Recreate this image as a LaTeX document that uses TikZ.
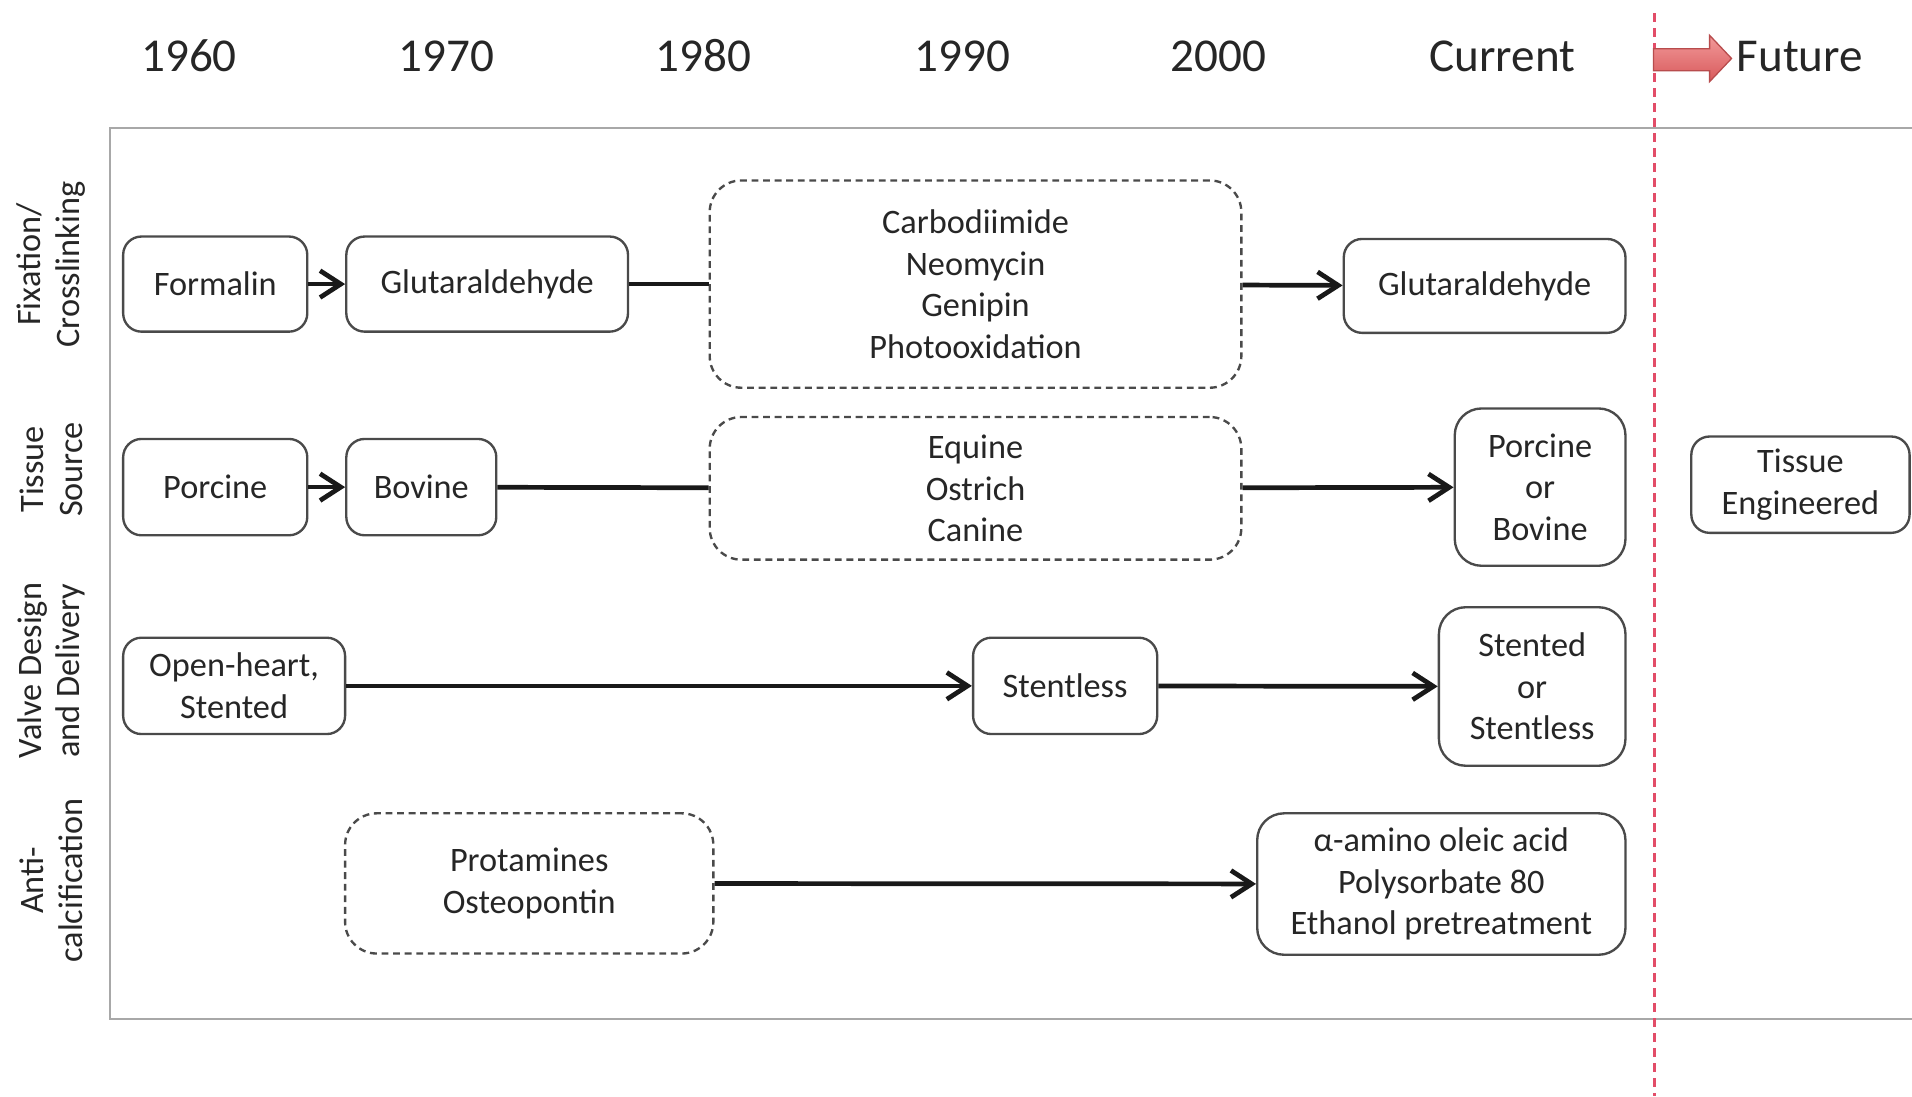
\documentclass[tikz,border=0pt]{standalone}
\usepackage{fontspec}
\setmainfont{Carlito}
\usetikzlibrary{arrows.meta,positioning}

\definecolor{inkgray}{HTML}{262626}
\definecolor{rimgray}{HTML}{4A4A4A}
\definecolor{framegray}{HTML}{A8A8A8}
\definecolor{futurered}{HTML}{E24D68}
\definecolor{arrowtop}{HTML}{F29A9A}
\definecolor{arrowbot}{HTML}{D8595B}

\tikzset{
  box/.style={draw=rimgray,line width=0.55pt,rounded corners=1.5mm,align=center,
    inner sep=0pt,text=inkgray,font=\fontsize{8}{9.7}\selectfont},
  altbox/.style={box,dash pattern=on 1.6pt off 1.1pt,rounded corners=2.6mm},
  link/.style={line width=1.1pt,draw=black!90},
  flow/.style={link,-{Straight Barb[length=1.7mm,width=2.2mm]}},
  year/.style={text=inkgray,font=\fontsize{11}{13}\selectfont},
  lane/.style={rotate=90,align=center,text=inkgray,font=\fontsize{8}{9.0}\selectfont},
}

\begin{document}
\begin{tikzpicture}
  \path[fill=white,use as bounding box] (0,0) rectangle (15.68,8.99);
  \draw[framegray,line width=0.5pt] (15.68,7.94) -- (0.90,7.94) -- (0.90,0.63) -- (15.68,0.63);
  \node[year] (Y1) at (1.55,8.53) {1960};
  \node[year] (Y2) at (3.66,8.53) {1970};
  \node[year] (Y3) at (5.77,8.53) {1980};
  \node[year] (Y4) at (7.89,8.53) {1990};
  \node[year] (Y5) at (9.99,8.53) {2000};
  \node[year] (Y6) at (12.32,8.53) {Current};
  \node[year] (Y7) at (14.76,8.53) {Future};
  \draw[futurered,line width=0.6pt,dash pattern=on 2pt off 1.5pt] (13.57,8.88) -- (13.57,0);
  \shade[top color=arrowtop,bottom color=arrowbot,draw=arrowbot!85!black,line width=0.3pt]
    (13.56,8.41) -- (14.02,8.41) -- (14.02,8.32) -- (14.20,8.51) -- (14.02,8.70)
    -- (14.02,8.59) -- (13.56,8.59) -- cycle;
  \node[lane] (L1) at (0.42,6.82) {Fixation/\\Crosslinking};
  \node[lane] (L2) at (0.42,5.14) {Tissue\\Source};
  \node[lane] (L3) at (0.42,3.49) {Valve Design\\and Delivery};
  \node[lane] (L4) at (0.42,1.77) {Anti-\\calcification};
  \node[box,minimum width=1.51cm,minimum height=0.78cm] (F1) at (1.765,6.66) {Formalin};
  \node[box,minimum width=2.31cm,minimum height=0.78cm] (F2) at (3.995,6.66) {Glutaraldehyde};
  \node[altbox,minimum width=4.36cm,minimum height=1.70cm] (F3) at (8.00,6.66) {Carbodiimide\\Neomycin\\Genipin\\Photooxidation};
  \node[box,minimum width=2.31cm,minimum height=0.77cm] (F4) at (12.175,6.645) {Glutaraldehyde};
  \node[box,minimum width=1.51cm,minimum height=0.79cm] (T1) at (1.765,4.995) {Porcine};
  \node[box,minimum width=1.23cm,minimum height=0.79cm] (T2) at (3.455,4.995) {Bovine};
  \node[altbox,minimum width=4.36cm,minimum height=1.17cm] (T3) at (8.00,4.985) {Equine\\Ostrich\\Canine};
  \node[box,minimum width=1.40cm,minimum height=1.29cm,rounded corners=2.2mm] (T4) at (12.63,4.995) {Porcine\\or\\Bovine};
  \node[box,minimum width=1.79cm,minimum height=0.79cm] (T5) at (14.765,5.015) {Tissue\\Engineered};
  \node[box,minimum width=1.82cm,minimum height=0.79cm] (V1) at (1.92,3.365) {Open-heart,\\Stented};
  \node[box,minimum width=1.51cm,minimum height=0.79cm] (V2) at (8.735,3.365) {Stentless};
  \node[box,minimum width=1.53cm,minimum height=1.30cm,rounded corners=2.2mm] (V3) at (12.565,3.36) {Stented\\or\\Stentless};
  \node[altbox,minimum width=3.02cm,minimum height=1.15cm] (A1) at (4.34,1.745) {Protamines\\Osteopontin};
  \node[box,minimum width=3.02cm,minimum height=1.16cm,rounded corners=2.2mm] (A2) at (11.82,1.74) {α-amino oleic acid\\Polysorbate 80\\Ethanol pretreatment};
  \draw[flow] (F1) -- (F2);
  \draw[link] (F2) -- (F3);
  \draw[flow] (F3) -- (F4);
  \draw[flow] (T1) -- (T2);
  \draw[link] (T2) -- (T3);
  \draw[flow] (T3) -- (T4);
  \draw[flow] (V1) -- (V2);
  \draw[flow] (V2) -- (V3);
  \draw[flow] (A1) -- (A2);
\end{tikzpicture}
\end{document}
